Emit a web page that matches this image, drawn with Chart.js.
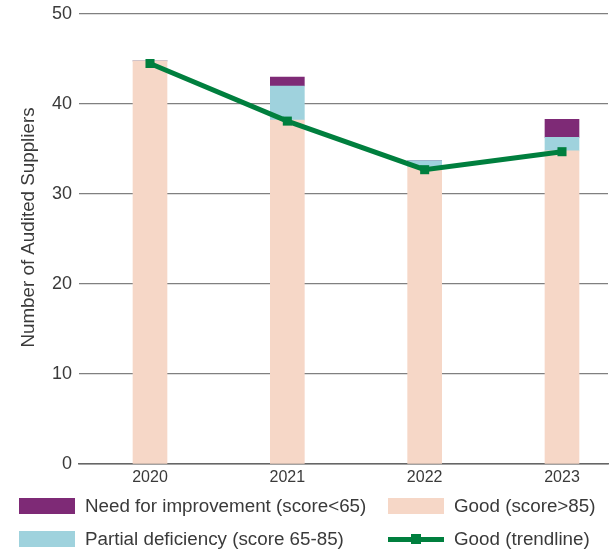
<!DOCTYPE html>
<html>
<head>
<meta charset="utf-8">
<script src="https://cdn.jsdelivr.net/npm/chart.js@4.4.1/dist/chart.umd.min.js"></script>
<style>
  body { margin: 0; background: #fff; }
  #wrap { position: relative; width: 616px; height: 553px; }
  #legend { position: absolute; left: 0; top: 0; font-family: "Liberation Sans", Arial, sans-serif; font-size: 18.8px; color: #3a3a3a; }
  .item { position: absolute; display: flex; align-items: center; height: 20px; white-space: nowrap; }
  .box { width: 56px; height: 16px; margin-right: 10px; position: relative; }
  .line { position: absolute; left: 0; right: 0; top: 5.5px; height: 5px; background: #007f3e; }
  .mark { position: absolute; left: 23px; top: 3px; width: 10px; height: 10px; background: #007f3e; }
</style>
</head>
<body>
<div id="wrap">
  <canvas id="chart" width="616" height="553"></canvas>
  <div id="legend">
    <div class="item" style="left:19px;top:496px"><div class="box" style="background:#7e2a76"></div>Need for improvement (score&lt;65)</div>
    <div class="item" style="left:388px;top:496px"><div class="box" style="background:#f6d7c7"></div>Good (score&gt;85)</div>
    <div class="item" style="left:19px;top:529px"><div class="box" style="background:#9fd2dd"></div>Partial deficiency (score 65-85)</div>
    <div class="item" style="left:388px;top:529px"><div class="box"><div class="line"></div><div class="mark"></div></div>Good (trendline)</div>
  </div>
</div>
<script>
// data
var years = ['2020', '2021', '2022', '2023'];
var good = [44.8, 38.2, 33.0, 34.8];
var partial = [0, 3.8, 0.7, 1.5];
var needImprovement = [0, 1.0, 0, 2.0];
var goodTrend = [44.5, 38.1, 32.7, 34.7];
var yTicks = [0, 10, 20, 30, 40, 50];
var yTitle = 'Number of Audited Suppliers';

function points(arr) {
    return arr.map(function (v, i) { return { x: i, y: v }; });
}

Chart.defaults.font.family = '"Liberation Sans", Arial, sans-serif';
Chart.defaults.color = '#3a3a3a';

// y title drawn by hand, it sits a bit above the middle of the plot
var titlePlugin = {
    id: 'yTitle',
    afterDraw: function (chart) {
        var c = chart.ctx;
        c.save();
        c.translate(28.5, 227.5);
        c.rotate(-Math.PI / 2);
        c.font = '18.8px "Liberation Sans", Arial, sans-serif';
        c.fillStyle = '#3a3a3a';
        c.textAlign = 'center';
        c.textBaseline = 'middle';
        c.fillText(yTitle, 0, 0);
        c.restore();
    }
};

var ctx = document.getElementById('chart').getContext('2d');
var chart = new Chart(ctx, {
    type: 'bar',
    data: {
        datasets: [{
            label: 'Good (score>85)',
            data: points(good),
            backgroundColor: '#f6d7c7',
            barThickness: 34,
            order: 1
        }, {
            label: 'Partial deficiency (score 65-85)',
            data: points(partial),
            backgroundColor: '#9fd2dd',
            barThickness: 34,
            order: 1
        }, {
            label: 'Need for improvement (score<65)',
            data: points(needImprovement),
            backgroundColor: '#7e2a76',
            barThickness: 34,
            order: 1
        }, {
            type: 'line',
            label: 'Good (trendline)',
            data: points(goodTrend),
            borderColor: '#007f3e',
            backgroundColor: '#007f3e',
            borderWidth: 5,
            pointStyle: 'rect',
            pointRadius: 6.4,
            pointBorderWidth: 0,
            tension: 0,
            order: 0
        }]
    },
    options: {
        responsive: false,
        animation: false,
        layout: { padding: { left: 0, right: 8, top: 14, bottom: 59 } },
        plugins: {
            legend: { display: false },
            tooltip: { enabled: false }
        },
        scales: {
            x: {
                type: 'linear',
                offset: false,
                min: -0.517,
                max: 3.335,
                stacked: true,
                grid: { display: false, drawTicks: false },
                border: { color: '#666', width: 1.5 },
                ticks: {
                    stepSize: 1,
                    includeBounds: false,
                    autoSkip: false,
                    maxRotation: 0,
                    padding: 4,
                    font: { size: 16 },
                    callback: function (v) { return years[v] !== undefined ? years[v] : ''; }
                },
                afterFit: function (s) { s.height = 30; s.paddingLeft = 0; s.paddingRight = 0; }
            },
            y: {
                stacked: true,
                min: 0,
                max: 50,
                afterBuildTicks: function (s) {
                    s.ticks = yTicks.map(function (v) { return { value: v }; });
                },
                grid: { color: '#808080', lineWidth: 1.2, drawTicks: false },
                border: { display: false },
                ticks: { padding: 7, font: { size: 18 } },
                afterFit: function (s) { s.width = 79; s.paddingTop = 0; s.paddingBottom = 0; }
            }
        }
    },
    plugins: [titlePlugin]
});
</script>
</body>
</html>
